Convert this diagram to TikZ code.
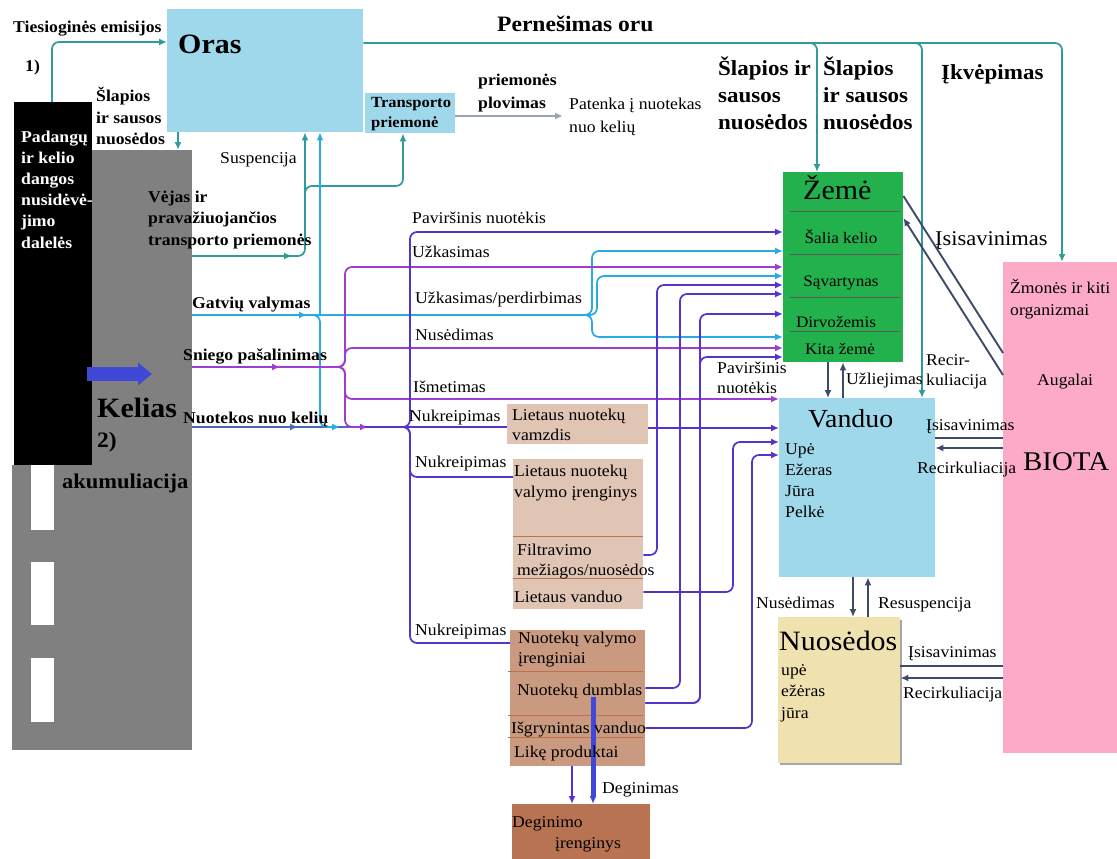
\documentclass[tikz,border=0pt]{standalone}
\usepackage{fontspec}
\setmainfont{Liberation Serif}[FakeStretch=1.07]
\usetikzlibrary{arrows.meta}
\definecolor{roadgray}{HTML}{808080}
\definecolor{skyb}{HTML}{9ED8EA}
\definecolor{zgreen}{HTML}{22B14C}
\definecolor{bpink}{HTML}{FDAAC8}
\definecolor{nyellow}{HTML}{F0E2AE}
\definecolor{lbrown}{HTML}{E0C4B4}
\definecolor{mbrown}{HTML}{C99A80}
\definecolor{dbrown}{HTML}{B87352}
\definecolor{tealc}{HTML}{2F9C9C}
\definecolor{cyanc}{HTML}{29ABE2}
\definecolor{purc}{HTML}{A03CD2}
\definecolor{vioc}{HTML}{5533CC}
\definecolor{nbc}{HTML}{4A6AB8}
\definecolor{dkc}{HTML}{3D4B6B}
\definecolor{grayarr}{HTML}{9AA3B5}
\definecolor{bluearr}{HTML}{4048D8}
\definecolor{divc}{HTML}{C0704A}
\begin{document}
\begin{tikzpicture}[x=1pt,y=-1pt,
  bx/.style={anchor=north west, inner sep=0pt, draw=none},
  lab/.style={anchor=base west, inner sep=0pt, font=\fontsize{16.5}{19}\selectfont},
  bl/.style={lab, font=\fontsize{16.5}{19}\selectfont\bfseries},
  clab/.style={lab, anchor=base},
  con/.style={line width=1.7pt, rounded corners=7pt},
  arw/.style={-{Latex[length=8pt,width=7pt]}},
  tl/.style={con, draw=tealc},
  cy/.style={con, draw=cyanc},
  pu/.style={con, draw=purc},
  vi/.style={con, draw=vioc},
  nb/.style={con, draw=nbc},
  dk/.style={line width=1.9pt, draw=dkc},
  dv/.style={line width=0.7pt, draw=divc}]
\useasboundingbox (0,0) rectangle (1117,859);
\fill[white] (0,0) rectangle (1117,859);

% road
\node[bx, fill=roadgray, minimum width=100, minimum height=600] (road) at (92,150) {};
\fill[roadgray] (12,465) rectangle (92,750);
\fill[white] (31,465) rectangle (54,530);
\fill[white] (31,562) rectangle (54,625);
\fill[white] (31,658) rectangle (54,722);
\node[bx, fill=black, minimum width=78, minimum height=363] (blk) at (14,102) {};
\coordinate (ba1) at (87,374);
\coordinate (ba2) at (152,374);
\draw[line width=14pt, draw=bluearr, -{Triangle[length=14pt,width=22pt]}] (ba1) -- (ba2);

% boxes
\node[bx, fill=skyb, minimum width=196, minimum height=123] (oras) at (167,9) {};
\node[bx, fill=skyb, minimum width=90, minimum height=40] (tp) at (365,93) {};
\node[bx, fill=zgreen, minimum width=120, minimum height=190] (zeme) at (783,172) {};
\node[bx, fill=skyb, minimum width=156, minimum height=179] (vand) at (779,398) {};
\node[bx, fill=bpink, minimum width=114, minimum height=491] (biota) at (1003,262) {};
\fill[black!35] (780,620) rectangle (902,765);
\node[bx, fill=nyellow, minimum width=122, minimum height=146] (nuos) at (778,617) {};
\node[bx, fill=lbrown, minimum width=141, minimum height=40] (lv) at (507,404) {};
\node[bx, fill=lbrown, minimum width=130, minimum height=150] (lvi) at (513,459) {};
\node[bx, fill=mbrown, minimum width=135, minimum height=136] (nvi) at (510,630) {};
\node[bx, fill=dbrown, minimum width=138, minimum height=55] (deg) at (512,804) {};

% dividers
\foreach \yy in {211,254,297,331} \draw[line width=0.7pt, draw=black!65] (790,\yy) -- (900,\yy);
\draw[dv] (513,536) -- (643,536);
\draw[dv] (513,578) -- (643,578);
\foreach \yy in {671,715,737} \draw[dv] (508,\yy) -- (643,\yy);

% teal connectors
\draw[tl,arw] (blk.north -| 52,0) |- (oras.west |- 0,42);
\draw[tl,arw] (oras.south -| 178,0) -- (road.north -| 178,0);
\draw[tl,arw] (road.east |- 0,256) -- (292,256);
\draw[tl,arw] (288,256) -| (oras.south -| 305,0);
\draw[tl,arw] (305,205) |- (360,186) -| (tp.south -| 403,0);
\draw[tl,arw] (oras.east |- 0,43) -| (biota.north -| 1062,0);
\draw[tl,arw] (795,43) -| (zeme.north -| 817,0);
\draw[tl,arw] (900,43) -| (vand.north -| 922,0);

% gray
\coordinate (pk) at (563,116);
\draw[line width=2.4pt, draw=grayarr, arw] (tp.east |- 0,116) -- (pk);

% cyan
\draw[cy,arw] (road.east |- 0,315) -- (307,315);
\draw[cy] (300,315) -- (566,315);
\draw[cy,arw] (560,315) -| (592,251) -- (zeme.west |- 0,251);
\draw[cy,arw] (560,315) -| (597,276) -- (zeme.west |- 0,276);
\draw[cy,arw] (560,315) -| (592,337) -- (zeme.west |- 0,337);
\draw[cy,arw] (320,315) -- (oras.south -| 320,0);

% nuotekos
\draw[nb,arw] (road.east |- 0,427) -- (298,427);
\draw[nb] (295,427) -- (405,427);
\draw[cy,arw] (310,315) -| (320,427) -- (340,427);

% purple
\draw[pu,arw] (road.east |- 0,367) -- (280,367);
\draw[pu] (276,367) -- (335,367);
\draw[pu,arw] (330,367) -| (345,267) -- (zeme.west |- 0,267);
\draw[pu,arw] (330,367) -| (345,348) -- (zeme.west |- 0,348);
\draw[pu,arw] (330,367) -| (345,399) -- (vand.west |- 0,399);
\draw[pu,arw] (330,367) -| (345,427) -- (368,427);

% violet
\draw[vi] (365,427) -- (lv.west |- 0,427);
\draw[vi,arw] (395,427) -| (410,232) -- (zeme.west |- 0,232);
\draw[vi] (395,427) -| (410,477) -- (lvi.west |- 0,477);
\draw[vi] (395,427) -| (410,643) -- (nvi.west |- 0,643);
\draw[vi,arw] (lv.east |- 0,428) -- (vand.west |- 0,428);
\draw[vi,arw] (lvi.east |- 0,555) -| (657,285) -- (zeme.west |- 0,285);
\draw[vi,arw] (lvi.east |- 0,592) -| (733,442) -- (vand.west |- 0,442);
\draw[vi,arw] (nvi.east |- 0,688) -| (680,294) -- (zeme.west |- 0,294);
\draw[vi,arw] (nvi.east |- 0,703) -| (700,314) -- (zeme.west |- 0,314);
\draw[vi,arw] (nvi.east |- 0,703) -| (700,357) -- (zeme.west |- 0,357);
\draw[vi,arw] (nvi.east |- 0,728) -| (752,455) -- (vand.west |- 0,455);
\draw[vi,arw] (nvi.south -| 572,0) -- (deg.north -| 572,0);
\coordinate (dumb) at (593,697);
\draw[line width=5pt, draw=bluearr, arw] (dumb) -- (deg.north -| 593,0);

% dark
\draw[dk,arw] (zeme.south -| 828,0) -- (vand.north -| 828,0);
\draw[dk,arw] (vand.north -| 843,0) -- (zeme.south -| 843,0);
\draw[dk] (zeme.east |- 0,196) -- (biota.west |- 0,353);
\draw[dk,arw] (biota.west |- 0,375) -- (zeme.east |- 0,218);
\draw[dk] (vand.east |- 0,438) -- (biota.west |- 0,438);
\draw[dk,arw] (biota.west |- 0,448) -- (vand.east |- 0,448);
\draw[dk,arw] (vand.south -| 853,0) -- (nuos.north -| 853,0);
\draw[dk,arw] (nuos.north -| 868,0) -- (vand.south -| 868,0);
\draw[dk] (nuos.east |- 0,666) -- (biota.west |- 0,666);
\draw[dk,arw] (biota.west |- 0,678) -- (nuos.east |- 0,678);

% bold texts
\node[bl] (t1) at (13,33) {Tiesioginės emisijos};
\node[bl] (t2) at (25,72) {1)};
\foreach \t [count=\i] in {Šlapios,ir sausos,nuosėdos} \node[bl] (sl\i) at (96,{102+21*(\i-1)}) {\t};
\foreach \t [count=\i] in {Padangų,ir kelio,dangos,nusidėvė-,jimo,dalelės} \node[bl,text=white] (pd\i) at (21,{142+21.2*(\i-1)}) {\t};
\foreach \t [count=\i] in {Vėjas ir,pravažiuojančios,transporto priemonės} \node[bl] (vj\i) at (148,{202+21.5*(\i-1)}) {\t};
\node[bl] (gv) at (192,308) {Gatvių valymas};
\node[bl] (sp) at (183,360) {Sniego pašalinimas};
\node[bl] (nk) at (183,423) {Nuotekos nuo kelių};
\node[bl, font=\fontsize{15.5}{18}\selectfont\bfseries] (tp1) at (371,107) {Transporto};
\node[bl, font=\fontsize{15.5}{18}\selectfont\bfseries] (tp2) at (371,128) {priemonė};
\node[bl] (pp1) at (478,85) {priemonės};
\node[bl] (pp2) at (478,108) {plovimas};
\node[lab] (pn1) at (569,110) {Patenka į nuotekas};
\node[lab] (pn2) at (569,132) {nuo kelių};
\node[bl, font=\fontsize{28}{30}\selectfont\bfseries] (orast) at (178,54) {Oras};
\node[bl, font=\fontsize{22}{24}\selectfont\bfseries] (per) at (497,32) {Pernešimas oru};
\foreach \t [count=\i] in {Šlapios ir,sausos,nuosėdos} \node[bl, font=\fontsize{21.5}{24}\selectfont\bfseries] (sa\i) at (718,{76+26.5*(\i-1)}) {\t};
\foreach \t [count=\i] in {Šlapios,ir sausos,nuosėdos} \node[bl, font=\fontsize{21.5}{24}\selectfont\bfseries] (sb\i) at (823,{76+26.5*(\i-1)}) {\t};
\node[bl, font=\fontsize{21.5}{24}\selectfont\bfseries] (ikv) at (941,80) {Įkvėpimas};
\node[bl, font=\fontsize{28}{30}\selectfont\bfseries] (kel) at (97,417) {Kelias};
\node[bl, font=\fontsize{22}{24}\selectfont\bfseries] (k2) at (97,447) {2)};
\node[bl, font=\fontsize{21}{24}\selectfont\bfseries] (aku) at (62,488) {akumuliacija};

% regular labels
\node[lab] (sus) at (220,163) {Suspencija};
\node[lab] (pv1) at (412,223) {Paviršinis nuotėkis};
\node[lab] (uz1) at (412,257) {Užkasimas};
\node[lab] (uz2) at (415,303) {Užkasimas/perdirbimas};
\node[lab] (nu1) at (415,340) {Nusėdimas};
\node[lab] (ism) at (413,392) {Išmetimas};
\node[lab] (nr1) at (409,421) {Nukreipimas};
\node[lab] (nr2) at (415,467) {Nukreipimas};
\node[lab] (nr3) at (415,635) {Nukreipimas};
\node[lab] (lv1) at (512,420) {Lietaus nuotekų};
\node[lab] (lv2) at (512,440) {vamzdis};
\node[lab] (li1) at (514,476) {Lietaus nuotekų};
\node[lab] (li2) at (514,497) {valymo įrenginys};
\node[lab] (li3) at (517,555) {Filtravimo};
\node[lab] (li4) at (517,575) {mežiagos/nuosėdos};
\node[lab] (li5) at (514,602) {Lietaus vanduo};
\node[lab] (nv1) at (518,643) {Nuotekų valymo};
\node[lab] (nv2) at (518,663) {įrenginiai};
\node[lab] (nv3) at (517,695) {Nuotekų dumblas};
\node[lab] (nv4) at (511,733) {Išgrynintas vanduo};
\node[lab] (nv5) at (514,757) {Likę produktai};
\node[lab] (dg1) at (512,827) {Deginimo};
\node[lab] (dg2) at (555,848) {įrenginys};
\node[lab] (dgm) at (602,793) {Deginimas};
\node[lab] (pv2) at (717,373) {Paviršinis};
\node[lab] (pv3) at (717,393) {nuotėkis};
\node[lab] (uzl) at (846,384) {Užliejimas};
\node[lab] (rc1) at (926,365) {Recir-};
\node[lab] (rc2) at (926,385) {kuliacija};
\node[lab, font=\fontsize{28}{30}\selectfont] (zt) at (803,199) {Žemė};
\node[clab, font=\fontsize{16}{18}\selectfont] (z1) at (841,243) {Šalia kelio};
\node[clab, font=\fontsize{16}{18}\selectfont] (z2) at (841,286) {Sąvartynas};
\node[clab, font=\fontsize{16}{18}\selectfont] (z3) at (836,327) {Dirvožemis};
\node[clab, font=\fontsize{16}{18}\selectfont] (z4) at (840,354) {Kita žemė};
\node[lab, font=\fontsize{26}{30}\selectfont] (vt) at (808,427) {Vanduo};
\foreach \t [count=\i] in {Upė,Ežeras,Jūra,Pelkė} \node[lab] (vw\i) at (785,{454+21*(\i-1)}) {\t};
\node[lab, font=\fontsize{28}{30}\selectfont] (nt) at (779,650) {Nuosėdos};
\foreach \t [count=\i] in {upė,ežėras,jūra} \node[lab] (ns\i) at (781,{675+21.5*(\i-1)}) {\t};
\node[lab, font=\fontsize{27}{30}\selectfont] (bt) at (1023,470) {BIOTA};
\node[lab] (bz1) at (1010,293) {Žmonės ir kiti};
\node[lab] (bz2) at (1010,315) {organizmai};
\node[lab] (aug) at (1037,385) {Augalai};
\node[lab, font=\fontsize{21}{24}\selectfont] (is1) at (935,245) {Įsisavinimas};
\node[lab] (is2) at (926,430) {Įsisavinimas};
\node[lab] (rk2) at (917,473) {Recirkuliacija};
\node[lab] (nu2) at (756,608) {Nusėdimas};
\node[lab] (res) at (878,608) {Resuspencija};
\node[lab] (is3) at (908,657) {Įsisavinimas};
\node[lab] (rk3) at (903,698) {Recirkuliacija};
\end{tikzpicture}
\end{document}
